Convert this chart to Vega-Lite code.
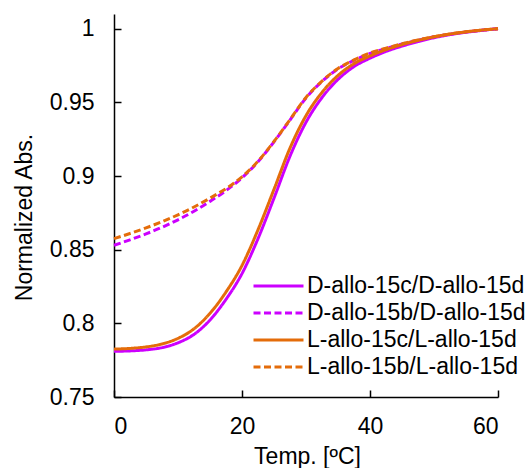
{
  "$schema": "https://vega.github.io/schema/vega-lite/v6.json",
  "width": 384,
  "height": 383,
  "autosize": {"type": "none"},
  "padding": {"left": 114, "top": 14, "right": 32, "bottom": 71},
  "config": {
    "view": {"stroke": null},
    "font": "Liberation Sans",
    "axis": {"grid": false, "domainColor": "#000000", "domainWidth": 1.5, "tickColor": "#000000", "tickWidth": 1.5, "labelColor": "#000000", "titleColor": "#000000", "labelFontSize": 23, "titleFontSize": 23, "titleFontWeight": "normal", "labelFont": "Liberation Sans", "titleFont": "Liberation Sans"}
  },
  "datasets": {
    "curves": [
      {"t":0,"v":0.7810,"s":"D-allo-15c/D-allo-15d"},{"t":2.5,"v":0.7813,"s":"D-allo-15c/D-allo-15d"},{"t":5,"v":0.7820,"s":"D-allo-15c/D-allo-15d"},{"t":7.5,"v":0.7835,"s":"D-allo-15c/D-allo-15d"},{"t":10,"v":0.7868,"s":"D-allo-15c/D-allo-15d"},{"t":12.5,"v":0.7925,"s":"D-allo-15c/D-allo-15d"},{"t":15,"v":0.8023,"s":"D-allo-15c/D-allo-15d"},{"t":17.5,"v":0.8163,"s":"D-allo-15c/D-allo-15d"},{"t":20,"v":0.8338,"s":"D-allo-15c/D-allo-15d"},{"t":22.5,"v":0.8575,"s":"D-allo-15c/D-allo-15d"},{"t":25,"v":0.8850,"s":"D-allo-15c/D-allo-15d"},{"t":27.5,"v":0.9135,"s":"D-allo-15c/D-allo-15d"},{"t":30,"v":0.9365,"s":"D-allo-15c/D-allo-15d"},{"t":32.5,"v":0.9533,"s":"D-allo-15c/D-allo-15d"},{"t":35,"v":0.9656,"s":"D-allo-15c/D-allo-15d"},{"t":37.5,"v":0.9743,"s":"D-allo-15c/D-allo-15d"},{"t":40,"v":0.9800,"s":"D-allo-15c/D-allo-15d"},{"t":42.5,"v":0.9846,"s":"D-allo-15c/D-allo-15d"},{"t":45,"v":0.9882,"s":"D-allo-15c/D-allo-15d"},{"t":47.5,"v":0.9913,"s":"D-allo-15c/D-allo-15d"},{"t":50,"v":0.9939,"s":"D-allo-15c/D-allo-15d"},{"t":52.5,"v":0.9960,"s":"D-allo-15c/D-allo-15d"},{"t":55,"v":0.9976,"s":"D-allo-15c/D-allo-15d"},{"t":57.5,"v":0.9989,"s":"D-allo-15c/D-allo-15d"},{"t":60,"v":1.0,"s":"D-allo-15c/D-allo-15d"},
      {"t":0,"v":0.8530,"s":"D-allo-15b/D-allo-15d"},{"t":2.5,"v":0.8567,"s":"D-allo-15b/D-allo-15d"},{"t":5,"v":0.8607,"s":"D-allo-15b/D-allo-15d"},{"t":7.5,"v":0.8652,"s":"D-allo-15b/D-allo-15d"},{"t":10,"v":0.8703,"s":"D-allo-15b/D-allo-15d"},{"t":12.5,"v":0.8761,"s":"D-allo-15b/D-allo-15d"},{"t":15,"v":0.8828,"s":"D-allo-15b/D-allo-15d"},{"t":17.5,"v":0.8901,"s":"D-allo-15b/D-allo-15d"},{"t":20,"v":0.8988,"s":"D-allo-15b/D-allo-15d"},{"t":22.5,"v":0.9097,"s":"D-allo-15b/D-allo-15d"},{"t":25,"v":0.9232,"s":"D-allo-15b/D-allo-15d"},{"t":27.5,"v":0.9380,"s":"D-allo-15b/D-allo-15d"},{"t":30,"v":0.9530,"s":"D-allo-15b/D-allo-15d"},{"t":32.5,"v":0.9642,"s":"D-allo-15b/D-allo-15d"},{"t":35,"v":0.9727,"s":"D-allo-15b/D-allo-15d"},{"t":37.5,"v":0.9785,"s":"D-allo-15b/D-allo-15d"},{"t":40,"v":0.9832,"s":"D-allo-15b/D-allo-15d"},{"t":42.5,"v":0.9866,"s":"D-allo-15b/D-allo-15d"},{"t":45,"v":0.9896,"s":"D-allo-15b/D-allo-15d"},{"t":47.5,"v":0.9922,"s":"D-allo-15b/D-allo-15d"},{"t":50,"v":0.9945,"s":"D-allo-15b/D-allo-15d"},{"t":52.5,"v":0.9963,"s":"D-allo-15b/D-allo-15d"},{"t":55,"v":0.9978,"s":"D-allo-15b/D-allo-15d"},{"t":57.5,"v":0.9990,"s":"D-allo-15b/D-allo-15d"},{"t":60,"v":1.0,"s":"D-allo-15b/D-allo-15d"},
      {"t":0,"v":0.7825,"s":"L-allo-15c/L-allo-15d"},{"t":2.5,"v":0.7830,"s":"L-allo-15c/L-allo-15d"},{"t":5,"v":0.7840,"s":"L-allo-15c/L-allo-15d"},{"t":7.5,"v":0.7860,"s":"L-allo-15c/L-allo-15d"},{"t":10,"v":0.7898,"s":"L-allo-15c/L-allo-15d"},{"t":12.5,"v":0.7963,"s":"L-allo-15c/L-allo-15d"},{"t":15,"v":0.8068,"s":"L-allo-15c/L-allo-15d"},{"t":17.5,"v":0.8213,"s":"L-allo-15c/L-allo-15d"},{"t":20,"v":0.8393,"s":"L-allo-15c/L-allo-15d"},{"t":22.5,"v":0.8635,"s":"L-allo-15c/L-allo-15d"},{"t":25,"v":0.8910,"s":"L-allo-15c/L-allo-15d"},{"t":27.5,"v":0.9190,"s":"L-allo-15c/L-allo-15d"},{"t":30,"v":0.9410,"s":"L-allo-15c/L-allo-15d"},{"t":32.5,"v":0.9568,"s":"L-allo-15c/L-allo-15d"},{"t":35,"v":0.9683,"s":"L-allo-15c/L-allo-15d"},{"t":37.5,"v":0.9763,"s":"L-allo-15c/L-allo-15d"},{"t":40,"v":0.9815,"s":"L-allo-15c/L-allo-15d"},{"t":42.5,"v":0.9858,"s":"L-allo-15c/L-allo-15d"},{"t":45,"v":0.9892,"s":"L-allo-15c/L-allo-15d"},{"t":47.5,"v":0.9921,"s":"L-allo-15c/L-allo-15d"},{"t":50,"v":0.9945,"s":"L-allo-15c/L-allo-15d"},{"t":52.5,"v":0.9964,"s":"L-allo-15c/L-allo-15d"},{"t":55,"v":0.9979,"s":"L-allo-15c/L-allo-15d"},{"t":57.5,"v":0.9991,"s":"L-allo-15c/L-allo-15d"},{"t":60,"v":1.0,"s":"L-allo-15c/L-allo-15d"},
      {"t":0,"v":0.8575,"s":"L-allo-15b/L-allo-15d"},{"t":2.5,"v":0.8610,"s":"L-allo-15b/L-allo-15d"},{"t":5,"v":0.8648,"s":"L-allo-15b/L-allo-15d"},{"t":7.5,"v":0.8690,"s":"L-allo-15b/L-allo-15d"},{"t":10,"v":0.8737,"s":"L-allo-15b/L-allo-15d"},{"t":12.5,"v":0.8790,"s":"L-allo-15b/L-allo-15d"},{"t":15,"v":0.8850,"s":"L-allo-15b/L-allo-15d"},{"t":17.5,"v":0.8915,"s":"L-allo-15b/L-allo-15d"},{"t":20,"v":0.8995,"s":"L-allo-15b/L-allo-15d"},{"t":22.5,"v":0.9100,"s":"L-allo-15b/L-allo-15d"},{"t":25,"v":0.9235,"s":"L-allo-15b/L-allo-15d"},{"t":27.5,"v":0.9383,"s":"L-allo-15b/L-allo-15d"},{"t":30,"v":0.9533,"s":"L-allo-15b/L-allo-15d"},{"t":32.5,"v":0.9645,"s":"L-allo-15b/L-allo-15d"},{"t":35,"v":0.9730,"s":"L-allo-15b/L-allo-15d"},{"t":37.5,"v":0.9788,"s":"L-allo-15b/L-allo-15d"},{"t":40,"v":0.9835,"s":"L-allo-15b/L-allo-15d"},{"t":42.5,"v":0.9868,"s":"L-allo-15b/L-allo-15d"},{"t":45,"v":0.9898,"s":"L-allo-15b/L-allo-15d"},{"t":47.5,"v":0.9924,"s":"L-allo-15b/L-allo-15d"},{"t":50,"v":0.9946,"s":"L-allo-15b/L-allo-15d"},{"t":52.5,"v":0.9964,"s":"L-allo-15b/L-allo-15d"},{"t":55,"v":0.9979,"s":"L-allo-15b/L-allo-15d"},{"t":57.5,"v":0.9991,"s":"L-allo-15b/L-allo-15d"},{"t":60,"v":1.0,"s":"L-allo-15b/L-allo-15d"}
    ]
  },
  "data": {"name": "curves"},
  "resolve": {"axis": {"x": "independent", "y": "independent"}},
  "layer": [
    {
      "mark": {"type": "line", "interpolate": "monotone", "strokeWidth": 3},
      "encoding": {
        "x": {
          "field": "t", "type": "quantitative",
          "scale": {"domain": [0, 60], "nice": false, "zero": false},
          "axis": {"orient": "bottom", "values": [0, 20, 40, 60], "format": "d", "ticks": false, "tickSize": 0, "labelPadding": 18, "title": "Temp. [ºC]", "titleX": 193, "titleY": 66, "titleBaseline": "alphabetic", "titleAnchor": "middle", "titleAlign": "center"}
        },
        "y": {
          "field": "v", "type": "quantitative",
          "scale": {"domain": [0.75, 1.01], "nice": false, "zero": false},
          "axis": {"orient": "left", "values": [0.75, 0.8, 0.85, 0.9, 0.95, 1], "format": "~g", "ticks": false, "tickSize": 0, "labelPadding": 20, "title": "Normalized Abs.", "titleX": -83, "titleY": 203, "titleAngle": -90, "titleBaseline": "alphabetic", "titleAlign": "center"}
        },
        "color": {
          "field": "s", "type": "nominal",
          "scale": {
            "domain": ["D-allo-15c/D-allo-15d", "D-allo-15b/D-allo-15d", "L-allo-15c/L-allo-15d", "L-allo-15b/L-allo-15d"],
            "range": ["#CC00FF", "#CC00FF", "#E46C0A", "#E46C0A"]
          },
          "legend": {
            "title": null, "orient": "none", "legendX": 164, "legendY": 258.5, "padding": 0,
            "symbolType": "M-3.1667,0L1,0", "symbolSize": 576, "symbolStrokeWidth": 3,
            "labelFontSize": 23, "labelFont": "Liberation Sans", "labelColor": "#000000", "labelLimit": 300, "labelOffset": 2, "rowPadding": 1
          }
        },
        "strokeDash": {
          "field": "s", "type": "nominal",
          "scale": {
            "domain": ["D-allo-15c/D-allo-15d", "D-allo-15b/D-allo-15d", "L-allo-15c/L-allo-15d", "L-allo-15b/L-allo-15d"],
            "range": [[1, 0], [7, 3.5], [1, 0], [7, 3.5]]
          },
          "legend": {
            "title": null, "orient": "none", "legendX": 164, "legendY": 258.5, "padding": 0,
            "symbolType": "M-3.1667,0L1,0", "symbolSize": 576, "symbolStrokeWidth": 3,
            "labelFontSize": 23, "labelFont": "Liberation Sans", "labelColor": "#000000", "labelLimit": 300, "labelOffset": 2, "rowPadding": 1
          }
        }
      }
    },
    {
      "mark": {"type": "point", "opacity": 0},
      "encoding": {
        "x": {
          "field": "t", "type": "quantitative",
          "axis": {"orient": "bottom", "offset": -7, "values": [0, 20, 40, 60], "domain": false, "labels": false, "title": null, "ticks": true, "tickSize": 7}
        },
        "y": {
          "field": "v", "type": "quantitative",
          "axis": {"orient": "left", "offset": -7, "values": [0.75, 0.8, 0.85, 0.9, 0.95, 1], "domain": false, "labels": false, "title": null, "ticks": true, "tickSize": 7}
        }
      }
    }
  ]
}
